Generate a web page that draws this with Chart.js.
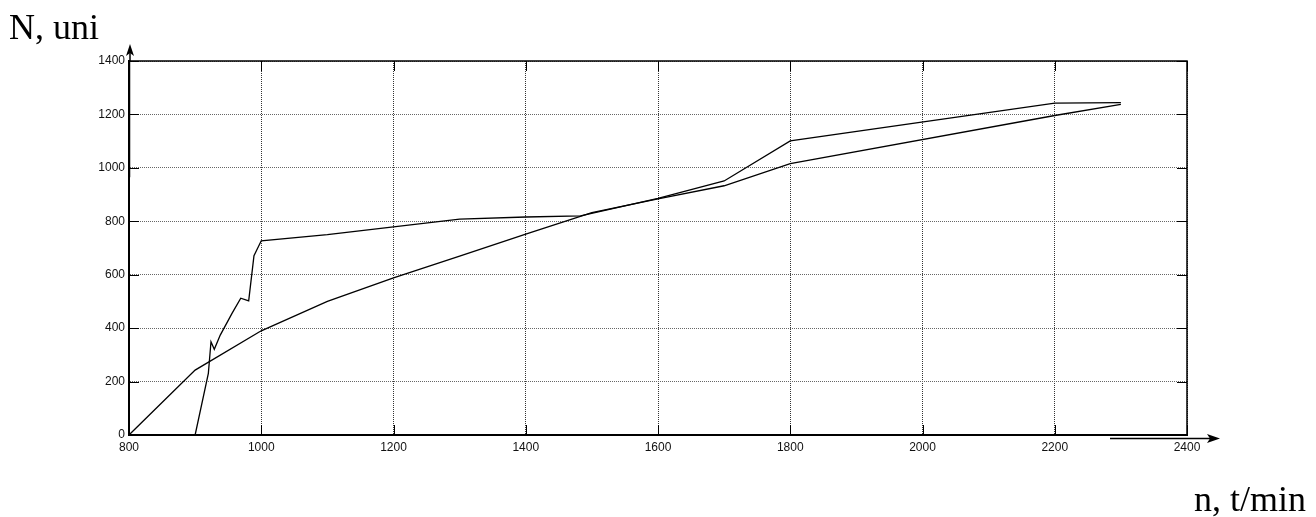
<!DOCTYPE html>
<html>
<head>
<meta charset="utf-8">
<script src="https://cdn.jsdelivr.net/npm/chart.js@4.4.1/dist/chart.umd.min.js"></script>
<style>
  html, body { margin: 0; padding: 0; background: #fff; }
  #wrap { width: 1316px; height: 517px; position: relative; }
</style>
</head>
<body>
<div id="wrap"><canvas id="c" width="1316" height="517"></canvas></div>
<script>
// ---- data ----
const xTickValues = [800, 1000, 1200, 1400, 1600, 1800, 2000, 2200, 2400];
const yTickValues = [0, 200, 400, 600, 800, 1000, 1200, 1400];

const smoothX = [800, 900, 1000, 1100, 1200, 1300, 1400, 1500, 1600, 1700, 1800, 2200, 2300];
const smoothY = [0, 243, 390, 500, 588, 670, 752, 832, 884, 933, 1016, 1196, 1238];

const jaggedX = [900, 920, 924, 929, 938, 956, 969, 981, 989, 1000, 1100, 1300, 1400, 1483, 1600, 1700, 1800, 2200, 2300];
const jaggedY = [0, 231, 349, 321, 374, 456, 512, 502, 671, 727, 750, 808, 816, 820, 886, 951, 1101, 1242, 1244];

const edgeX = [800, 800];
const edgeY = [1400, 965];

const yTitle = "N, uni";
const xTitle = "n, t/min";

const toPts = (xs, ys) => xs.map((x, i) => ({ x: x, y: ys[i] }));

const decor = {
  id: 'decor',
  beforeDatasetsDraw(chart) {
    const { ctx, chartArea: a, scales: { x, y } } = chart;
    ctx.save();
    // inward tick marks
    ctx.strokeStyle = '#000';
    ctx.lineWidth = 1;
    ctx.beginPath();
    yTickValues.forEach(v => {
      const py = Math.round(y.getPixelForValue(v)) + 0.5;
      ctx.moveTo(a.left, py); ctx.lineTo(a.left + 10, py);
      ctx.moveTo(a.right, py); ctx.lineTo(a.right - 10, py);
    });
    xTickValues.forEach(v => {
      const px = Math.round(x.getPixelForValue(v)) + 0.5;
      ctx.moveTo(px, a.bottom); ctx.lineTo(px, a.bottom - 10);
      ctx.moveTo(px, a.top); ctx.lineTo(px, a.top + 10);
    });
    ctx.stroke();
    // top and right borders
    ctx.lineWidth = 1.5;
    ctx.beginPath();
    ctx.moveTo(a.left, a.top); ctx.lineTo(a.right, a.top); ctx.lineTo(a.right, a.bottom);
    ctx.stroke();
    ctx.restore();
  },
  afterDraw(chart) {
    const { ctx, chartArea: a } = chart;
    ctx.save();
    ctx.strokeStyle = '#000';
    ctx.fillStyle = '#000';
    ctx.lineWidth = 1.5;
    // y arrow
    const ax = a.left + 1;
    ctx.beginPath(); ctx.moveTo(ax, a.top); ctx.lineTo(ax, 50); ctx.stroke();
    ctx.beginPath();
    ctx.moveTo(ax, 44); ctx.lineTo(ax + 4, 56); ctx.lineTo(ax, 53); ctx.lineTo(ax - 4, 56); ctx.closePath(); ctx.fill();
    // x arrow
    const ay = 438.5;
    ctx.beginPath(); ctx.moveTo(1110, ay); ctx.lineTo(1212, ay); ctx.stroke();
    ctx.beginPath();
    ctx.moveTo(1220, ay); ctx.lineTo(1207, ay - 4.5); ctx.lineTo(1210, ay); ctx.lineTo(1207, ay + 4.5); ctx.closePath(); ctx.fill();
    // titles
    ctx.font = '36px "Liberation Serif", "Times New Roman", serif';
    ctx.textBaseline = 'alphabetic';
    ctx.textAlign = 'left';
    ctx.fillText(yTitle, 9, 39);
    ctx.textAlign = 'right';
    ctx.fillText(xTitle, 1306, 511);
    ctx.restore();
  }
};

new Chart(document.getElementById('c'), {
  type: 'line',
  data: {
    datasets: [
      { data: toPts(smoothX, smoothY), borderColor: '#000', borderWidth: 1.3, pointRadius: 0, tension: 0, fill: false },
      { data: toPts(jaggedX, jaggedY), borderColor: '#000', borderWidth: 1.3, pointRadius: 0, tension: 0, fill: false },
      { data: toPts(edgeX, edgeY), borderColor: '#000', borderWidth: 2.5, pointRadius: 0, tension: 0, fill: false }
    ]
  },
  options: {
    responsive: false,
    animation: false,
    events: [],
    layout: { padding: { left: 0, top: 61, right: 129, bottom: 0 } },
    plugins: { legend: { display: false }, tooltip: { enabled: false }, title: { display: false } },
    scales: {
      x: {
        type: 'linear', min: 800, max: 2400,
        afterBuildTicks: s => { s.ticks = xTickValues.map(v => ({ value: v })); },
        afterFit: s => { s.height = 82; },
        ticks: { color: '#111', padding: 5, maxRotation: 0, autoSkip: false,
                 callback: v => String(v),
                 font: { family: '"Liberation Sans", Arial, sans-serif', size: 12 } },
        grid: { color: '#333', lineWidth: 1, drawTicks: false },
        border: { color: '#000', width: 2, dash: [1, 1] }
      },
      y: {
        type: 'linear', min: 0, max: 1400,
        afterBuildTicks: s => { s.ticks = yTickValues.map(v => ({ value: v })); },
        afterFit: s => { s.width = 129; },
        ticks: { color: '#111', padding: 4, autoSkip: false,
                 callback: v => String(v),
                 font: { family: '"Liberation Sans", Arial, sans-serif', size: 12 } },
        grid: { color: '#666', lineWidth: 1, drawTicks: false },
        border: { color: '#000', width: 2, dash: [1, 1] }
      }
    }
  },
  plugins: [decor]
});
</script>
</body>
</html>
